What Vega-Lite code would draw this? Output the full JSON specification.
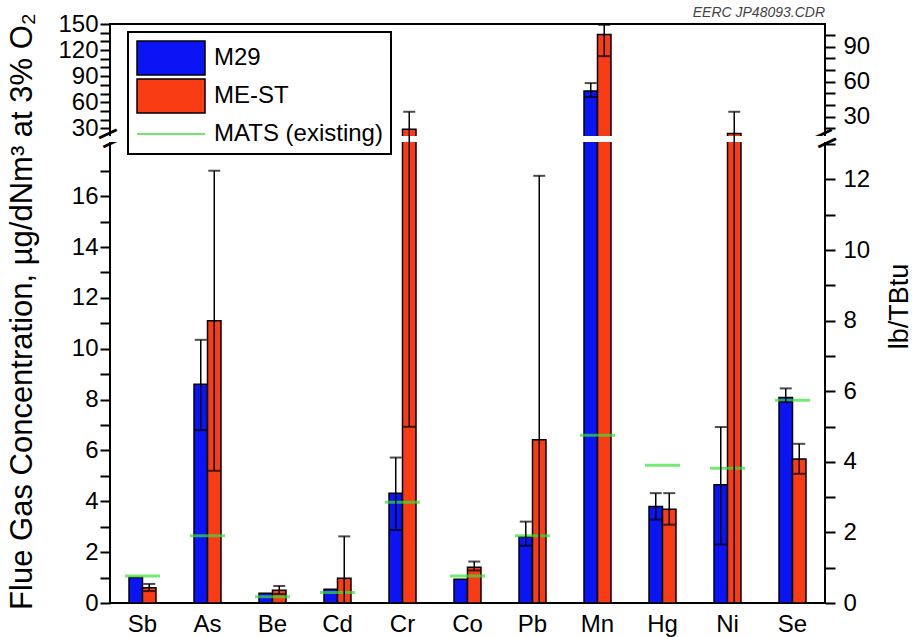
{
  "$schema": "https://vega.github.io/schema/vega-lite/v6.json",
  "width": 715,
  "height": 579,
  "autosize": "none",
  "padding": {"left": 110, "top": 24, "right": 87, "bottom": 34},
  "title": {"text": "EERC JP48093.CDR", "anchor": "end", "frame": "group", "fontSize": 14, "fontStyle": "italic", "fontWeight": "normal", "color": "#444444", "offset": -8, "font": "Liberation Sans"},
  "datasets": {
    "bars": [
      {"el": "Sb", "series": "M29", "value": 1.0, "low": null, "high": null},
      {"el": "Sb", "series": "ME-ST", "value": 0.6, "low": 0.47, "high": 0.75},
      {"el": "As", "series": "M29", "value": 8.6, "low": 6.8, "high": 10.35},
      {"el": "As", "series": "ME-ST", "value": 11.1, "low": 5.2, "high": 17.0},
      {"el": "Be", "series": "M29", "value": 0.38, "low": null, "high": null},
      {"el": "Be", "series": "ME-ST", "value": 0.5, "low": 0.35, "high": 0.67},
      {"el": "Cd", "series": "M29", "value": 0.54, "low": null, "high": null},
      {"el": "Cd", "series": "ME-ST", "value": 0.97, "low": 0, "high": 2.62},
      {"el": "Cr", "series": "M29", "value": 4.32, "low": 2.87, "high": 5.72},
      {"el": "Cr", "series": "ME-ST", "value": 29, "low": 6.93, "high": 49},
      {"el": "Co", "series": "M29", "value": 0.93, "low": null, "high": null},
      {"el": "Co", "series": "ME-ST", "value": 1.41, "low": 1.28, "high": 1.63},
      {"el": "Pb", "series": "M29", "value": 2.6, "low": 2.25, "high": 3.2},
      {"el": "Pb", "series": "ME-ST", "value": 6.42, "low": 0, "high": 16.8},
      {"el": "Mn", "series": "M29", "value": 73, "low": 66, "high": 82},
      {"el": "Mn", "series": "ME-ST", "value": 138, "low": 113, "high": 149},
      {"el": "Hg", "series": "M29", "value": 3.8, "low": 3.28, "high": 4.32},
      {"el": "Hg", "series": "ME-ST", "value": 3.69, "low": 3.08, "high": 4.32},
      {"el": "Ni", "series": "M29", "value": 4.65, "low": 2.3, "high": 6.92},
      {"el": "Ni", "series": "ME-ST", "value": 24, "low": 0, "high": 49},
      {"el": "Se", "series": "M29", "value": 8.08, "low": 7.9, "high": 8.44},
      {"el": "Se", "series": "ME-ST", "value": 5.66, "low": 5.08, "high": 6.26}
    ],
    "mats": [
      {"el": "Sb", "mats": 1.06},
      {"el": "As", "mats": 2.64},
      {"el": "Be", "mats": 0.25},
      {"el": "Cd", "mats": 0.41},
      {"el": "Cr", "mats": 3.96},
      {"el": "Co", "mats": 1.06},
      {"el": "Pb", "mats": 2.64},
      {"el": "Mn", "mats": 6.6},
      {"el": "Hg", "mats": 5.42},
      {"el": "Ni", "mats": 5.3},
      {"el": "Se", "mats": 7.97}
    ]
  },
  "layer": [
    {
      "layer": [
        {
          "data": {"name": "bars"},
          "mark": {"type": "bar", "stroke": "black", "strokeWidth": 1.5},
          "encoding": {
            "x": {"field": "el", "type": "nominal", "scale": {"domain": ["Sb","As","Be","Cd","Cr","Co","Pb","Mn","Hg","Ni","Se"], "paddingInner": 0.585, "paddingOuter": 0.2925},
                  "axis": {"orient": "bottom", "title": null, "labelAngle": 0, "ticks": false, "domain": false, "labelFontSize": 24, "labelPadding": 9}},
            "xOffset": {"field": "series", "type": "nominal", "scale": {"domain": ["M29", "ME-ST"]}},
            "y": {"field": "value", "type": "quantitative", "stack": null,
                  "scale": {"domain": [0, 18.13, 21.1, 150], "range": [579, 118, 112, 0], "nice": false, "zero": false},
                  "axis": null},
            "color": {"field": "series", "type": "nominal",
                      "scale": {"domain": ["M29", "ME-ST"], "range": ["#0a14f5", "#fa3c14"]},
                      "legend": null}
          }
        },
        {
          "data": {"name": "bars"},
          "mark": {"type": "point", "filled": true, "opacity": 0, "strokeWidth": 2.5},
          "encoding": {
            "x": {"field": "el", "type": "nominal", "scale": {"domain": ["Sb","As","Be","Cd","Cr","Co","Pb","Mn","Hg","Ni","Se"]}},
            "xOffset": {"field": "series", "type": "nominal", "scale": {"domain": ["M29", "ME-ST"]}},
            "y": {"field": "value", "type": "quantitative", "axis": null},
            "fill": {"field": "series", "type": "nominal",
                     "scale": {"domain": ["M29", "ME-ST", "MATS (existing)"], "range": ["#0a14f5", "#fa3c14", "#3be03b"]},
                     "legend": {"title": null, "orient": "none", "legendX": 18, "legendY": 8, "padding": 8,
                                "strokeColor": "black", "fillColor": "white", "labelFontSize": 24, "labelFont": "Liberation Sans", "labelColor": "black",
                                "symbolSize": 1156, "symbolOpacity": 1, "rowPadding": -2, "labelOffset": 42, "labelLimit": 400}},
            "stroke": {"field": "series", "type": "nominal",
                       "scale": {"domain": ["M29", "ME-ST", "MATS (existing)"], "range": ["black", "black", "#3be03b"]},
                       "legend": {"title": null, "orient": "none", "legendX": 18, "legendY": 8, "padding": 8,
                                  "strokeColor": "black", "fillColor": "white", "labelFontSize": 24, "labelFont": "Liberation Sans", "labelColor": "black",
                                  "symbolSize": 1156, "symbolOpacity": 1, "rowPadding": -2, "labelOffset": 42, "labelLimit": 400}},
            "shape": {"field": "series", "type": "nominal",
                      "scale": {"domain": ["M29", "ME-ST", "MATS (existing)"], "range": ["M-1,-1H3V1H-1Z", "M-1,-1H3V1H-1Z", "M-1,0H3"]},
                      "legend": {"title": null, "orient": "none", "legendX": 18, "legendY": 8, "padding": 8,
                                 "strokeColor": "black", "fillColor": "white", "labelFontSize": 24, "labelFont": "Liberation Sans", "labelColor": "black",
                                 "symbolSize": 1156, "symbolOpacity": 1, "rowPadding": -2, "labelOffset": 42, "labelLimit": 400}}
          }
        },
        {
          "data": {"values": [{}]},
          "mark": {"type": "rect", "fill": "white", "stroke": "white", "strokeWidth": 2},
          "encoding": {
            "y": {"datum": 18.63, "type": "quantitative", "axis": null},
            "y2": {"datum": 20.6}
          }
        },
        {
          "data": {"name": "mats"},
          "mark": {"type": "tick", "thickness": 3, "size": 35, "color": "#3be03b"},
          "encoding": {
            "x": {"field": "el", "type": "nominal", "scale": {"domain": ["Sb","As","Be","Cd","Cr","Co","Pb","Mn","Hg","Ni","Se"]}},
            "y": {"field": "mats", "type": "quantitative", "axis": null}
          }
        },
        {
          "data": {"name": "bars"},
          "transform": [{"filter": "isValid(datum.high)"}],
          "mark": {"type": "rule", "color": "black", "strokeWidth": 1.5},
          "encoding": {
            "x": {"field": "el", "type": "nominal", "scale": {"domain": ["Sb","As","Be","Cd","Cr","Co","Pb","Mn","Hg","Ni","Se"]}},
            "xOffset": {"field": "series", "type": "nominal", "scale": {"domain": ["M29", "ME-ST"]}},
            "y": {"field": "low", "type": "quantitative", "axis": null},
            "y2": {"field": "high"}
          }
        },
        {
          "data": {"name": "bars"},
          "transform": [{"filter": "isValid(datum.high)"}],
          "mark": {"type": "tick", "color": "black", "thickness": 2, "size": 12},
          "encoding": {
            "x": {"field": "el", "type": "nominal", "scale": {"domain": ["Sb","As","Be","Cd","Cr","Co","Pb","Mn","Hg","Ni","Se"]}},
            "xOffset": {"field": "series", "type": "nominal", "scale": {"domain": ["M29", "ME-ST"]}},
            "y": {"field": "high", "type": "quantitative", "axis": null}
          }
        },
        {
          "data": {"name": "bars"},
          "transform": [{"filter": "isValid(datum.low)"}],
          "mark": {"type": "tick", "color": "black", "thickness": 2, "size": 12},
          "encoding": {
            "x": {"field": "el", "type": "nominal", "scale": {"domain": ["Sb","As","Be","Cd","Cr","Co","Pb","Mn","Hg","Ni","Se"]}},
            "xOffset": {"field": "series", "type": "nominal", "scale": {"domain": ["M29", "ME-ST"]}},
            "y": {"field": "low", "type": "quantitative", "axis": null}
          }
        }
      ]
    },
    {
      "data": {"values": [{}]},
      "mark": {"type": "tick", "opacity": 0},
      "encoding": {
        "y": {"datum": 0, "type": "quantitative",
              "scale": {"domain": [0, 18.13, 21.1, 150], "range": [579, 118, 112, 0], "nice": false, "zero": false},
              "axis": {"orient": "left", "title": "Flue Gas Concentration, µg/dNm³ at 3% O₂",
                       "values": [0,1,2,3,4,5,6,7,8,9,10,11,12,13,14,15,16,17,30,40,50,60,70,80,90,100,110,120,130,140,150],
                       "labelExpr": "(datum.value <= 18 ? datum.value % 2 === 0 : datum.value % 30 === 0) ? datum.label : ''",
                       "ticks": true, "tickSize": 10, "tickWidth": 2, "tickColor": "black", "domain": false, "grid": false,
                       "encode": {"ticks": {"x2": {"condition": {"test": "datum.value <= 18 ? datum.value % 2 === 0 : datum.value % 30 === 0", "value": -10}, "value": -6}}},
                       "labelFontSize": 24, "labelPadding": 2, "labelOverlap": false, "labelFlush": false, "labelBound": false,
                       "titleFontSize": 31, "titleFontWeight": "normal", "titleX": -72, "titleY": 287, "titleAlign": "center", "titleAngle": 270, "titleBaseline": "bottom"}}
      }
    },
    {
      "data": {"values": [{}]},
      "mark": {"type": "tick", "opacity": 0},
      "encoding": {
        "y": {"datum": 0, "type": "quantitative",
              "scale": {"domain": [0, 18.13, 21.1, 150], "range": [579, 118, 112, 0], "nice": false, "zero": false},
              "axis": {"orient": "left", "title": null, "values": [19.6], "labelExpr": "'='",
                       "ticks": false, "tickSize": 0, "domain": false, "grid": false,
                       "labelFontSize": 40, "labelPadding": 0, "labelAngle": -25, "labelAlign": "center", "labelBaseline": "middle",
                       "labelOverlap": false, "labelFlush": false, "labelBound": false}}
      }
    },
    {
      "data": {"values": [{}]},
      "mark": {"type": "tick", "opacity": 0},
      "encoding": {
        "y": {"datum": 0, "type": "quantitative",
              "scale": {"domain": [0, 13.06, 13.5, 109.4], "range": [579, 118, 112, 0], "nice": false, "zero": false},
              "axis": {"orient": "right", "title": "lb/TBtu",
                       "values": [0,1,2,3,4,5,6,7,8,9,10,11,12,13,20,30,40,50,60,70,80,90,100],
                       "labelExpr": "(datum.value <= 13.2 ? datum.value % 2 === 0 : datum.value % 30 === 0) ? datum.label : ''",
                       "ticks": true, "tickSize": 10, "tickWidth": 2, "tickColor": "black", "domain": false, "grid": false,
                       "encode": {"ticks": {"x2": {"condition": {"test": "datum.value <= 13.2 ? datum.value % 2 === 0 : datum.value % 30 === 0", "value": 10}, "value": 6}}},
                       "labelFontSize": 24, "labelPadding": 8, "labelOverlap": false, "labelFlush": false, "labelBound": false,
                       "titleFontSize": 27, "titleFontWeight": "normal", "titleX": 61, "titleY": 282, "titleAlign": "center", "titleAngle": 270, "titleBaseline": "top"}}
      }
    },
    {
      "data": {"values": [{}]},
      "mark": {"type": "tick", "opacity": 0},
      "encoding": {
        "y": {"datum": 0, "type": "quantitative",
              "scale": {"domain": [0, 13.06, 13.5, 109.4], "range": [579, 118, 112, 0], "nice": false, "zero": false},
              "axis": {"orient": "right", "title": null, "values": [13.28], "labelExpr": "'='",
                       "ticks": false, "tickSize": 0, "domain": false, "grid": false,
                       "labelFontSize": 40, "labelPadding": 0, "labelAngle": -25, "labelAlign": "center", "labelBaseline": "middle",
                       "labelOverlap": false, "labelFlush": false, "labelBound": false}}
      }
    }
  ],
  "resolve": {"scale": {"y": "independent"}},
  "config": {
    "font": "Liberation Sans",
    "view": {"stroke": "black", "strokeWidth": 2},
    "legend": {"strokeWidth": 2},
    "axis": {"labelColor": "black", "titleColor": "black", "labelFont": "Liberation Sans", "titleFont": "Liberation Sans"}
  }
}
